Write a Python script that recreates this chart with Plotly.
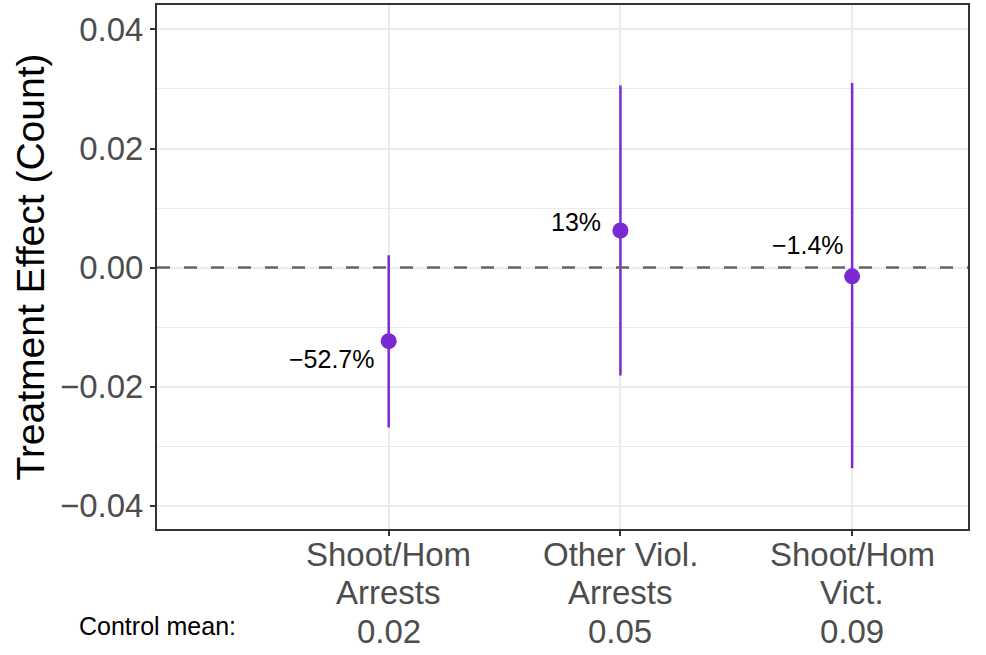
import plotly.graph_objects as go

# Outcomes, control-group means and estimated treatment effects
outcomes = [["Shoot/Hom", "Arrests"], ["Other Viol.", "Arrests"], ["Shoot/Hom", "Vict."]]
control_means = ["0.02", "0.05", "0.09"]
x_pos = [1, 2, 3]
effects = [-0.01236, 0.00623, -0.00147]
ci_low = [-0.02685, -0.01814, -0.0337]
ci_high = [0.00207, 0.0306, 0.0310]
pct_labels = ["\u221252.7%", "13%", "\u22121.4%"]

y_ticks = [-0.04, -0.02, 0.0, 0.02, 0.04]
y_tick_text = ["\u22120.04", "\u22120.02", "0.00", "0.02", "0.04"]

FONT = "Liberation Sans, Arial, sans-serif"
purple = "#7B29D2"
tick_font = dict(family=FONT, size=33, color="#4D4D4D")

fig = go.Figure()

# zero reference line
fig.add_shape(type="line", xref="paper", x0=0, x1=1, yref="y", y0=0, y1=0,
              line=dict(color="#666666", width=2.5, dash="13px,14px"), layer="above")

# confidence intervals as vertical segments
for xi, lo, hi in zip(x_pos, ci_low, ci_high):
    fig.add_trace(go.Scatter(x=[xi, xi], y=[lo, hi], mode="lines",
                             line=dict(color=purple, width=2.5),
                             showlegend=False, hoverinfo="skip"))

# point estimates
fig.add_trace(go.Scatter(x=x_pos, y=effects, mode="markers",
                         marker=dict(color=purple, size=16, line=dict(width=0)),
                         showlegend=False))

# percentage-change labels beside each estimate
offsets = [(-12, -18), (-17, 9), (-6, 31)]
for xi, yi, lab, (dx, dy) in zip(x_pos, effects, pct_labels, offsets):
    fig.add_annotation(x=xi, y=yi, xref="x", yref="y", text=lab, showarrow=False,
                       xanchor="right", yanchor="middle", xshift=dx, yshift=dy,
                       font=dict(family=FONT, size=25, color="black"))

# category labels under the axis, one line at a time for tight line spacing
line_step = 38.5
for xi, lines, m in zip(x_pos, outcomes, control_means):
    for k, txt in enumerate(lines + [m]):
        fig.add_annotation(x=xi, y=0, xref="x", yref="paper", text=txt, showarrow=False,
                           xanchor="center", yanchor="middle",
                           yshift=-(25 + k * line_step), font=tick_font)

fig.add_annotation(x=0, y=0, xref="paper", yref="paper", text="Control mean:",
                   showarrow=False, xanchor="center", yanchor="middle",
                   yshift=-(25 + 2 * line_step) + 5,
                   font=dict(family=FONT, size=25, color="black"))

fig.update_layout(
    width=986, height=655,
    margin=dict(l=157, r=18, t=5, b=126),
    plot_bgcolor="white", paper_bgcolor="white",
    showlegend=False,
    xaxis=dict(range=[0, 3.5], tickvals=x_pos, showticklabels=False, automargin=False,
               ticks="outside", ticklen=5, tickwidth=1.5, tickcolor="#333333",
               showgrid=True, gridcolor="#EBEBEB", gridwidth=1.5, zeroline=False,
               showline=True, linecolor="#333333", linewidth=2, mirror=True),
    yaxis=dict(range=[-0.0439, 0.0441], tickvals=y_ticks, ticktext=y_tick_text, automargin=False,
               tickfont=tick_font, ticks="outside", ticklen=5, tickwidth=1.5, tickcolor="#333333",
               showgrid=True, gridcolor="#EBEBEB", gridwidth=1.5, zeroline=False,
               minor=dict(dtick=0.01, tick0=0, showgrid=True, gridcolor="#EBEBEB", gridwidth=1, ticks=""),
               showline=True, linecolor="#333333", linewidth=2, mirror=True,
               title=dict(text="Treatment Effect (Count)", standoff=3,
                          font=dict(family=FONT, size=39, color="black"))),
)

fig.write_html("out.html")
